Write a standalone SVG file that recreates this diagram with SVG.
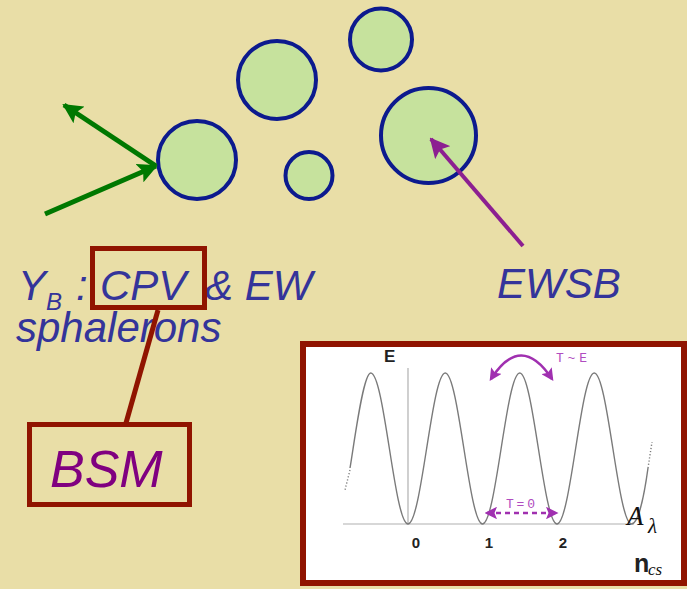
<svg xmlns="http://www.w3.org/2000/svg" width="687" height="589" viewBox="0 0 687 589">
  <defs>
    <style>
      .bubble { fill: #c6e29d; stroke: #0c1a8e; stroke-width: 4; }
      .label { font-family: "Liberation Sans", Arial, sans-serif; font-style: italic; fill: #34349a; }
      .box { fill: none; stroke: #901400; stroke-width: 5; }
      .green { stroke: #007800; stroke-width: 5; fill: none; }
      .purple { stroke: #8c1f91; stroke-width: 4; fill: none; }
      .wave { fill: none; stroke: #7a7a7a; stroke-width: 1.4; }
      .axis { stroke: #b0b0b0; stroke-width: 1.2; }
      .tick { font-family: "Liberation Sans", Arial, sans-serif; font-weight: bold; fill: #222; }
      .mono { font-family: "Liberation Mono", "Courier New", monospace; fill: #b04cc0; }
      .math { font-family: "Liberation Serif", "Times New Roman", serif; font-style: italic; fill: #111; }
    </style>
    <marker id="headGreen" viewBox="0 0 10 10" refX="9" refY="5" markerWidth="4" markerHeight="4" orient="auto" markerUnits="strokeWidth">
      <path d="M0,0 L10,5 L0,10 L2,5 Z" fill="#007800"/>
    </marker>
    <marker id="headPurple" viewBox="0 0 10 10" refX="9" refY="5" markerWidth="5" markerHeight="5" orient="auto" markerUnits="strokeWidth">
      <path d="M0,0 L10,5 L0,10 L2,5 Z" fill="#8c1f91"/>
    </marker>
    <marker id="headPlot" viewBox="0 0 10 10" refX="8" refY="5" markerWidth="5" markerHeight="5" orient="auto-start-reverse" markerUnits="strokeWidth">
      <path d="M0,0 L10,5 L0,10 L2,5 Z" fill="#a030b0"/>
    </marker>
  </defs>

  <!-- background -->
  <rect x="0" y="0" width="687" height="589" fill="#e9dea7"/>

  <!-- bubbles -->
  <g id="bubble-left"><circle class="bubble" cx="197" cy="160" r="39"/></g>
  <g id="bubble-mid"><circle class="bubble" cx="277" cy="80" r="39"/></g>
  <g id="bubble-top"><circle class="bubble" cx="381" cy="39.5" r="31"/></g>
  <g id="bubble-small"><circle class="bubble" cx="309" cy="175.5" r="23.5"/></g>
  <g id="bubble-big"><circle class="bubble" cx="428.5" cy="135.5" r="47.5"/></g>

  <!-- labels -->
  <g id="label-yb">
    <text class="label" font-size="42" x="18" y="300">Y</text>
    <text class="label" font-size="24" x="46" y="310">B</text>
    <text class="label" font-size="42" x="76" y="300">:</text>
    <text class="label" font-size="42" x="100" y="300">CPV</text>
    <text class="label" font-size="42" x="205" y="300">&amp; EW</text>
    <text class="label" font-size="42" x="16" y="342">sphalerons</text>
  </g>
  <g id="label-ewsb">
    <text class="label" font-size="42" x="497" y="298">EWSB</text>
  </g>
  <g id="cpv-box">
    <rect class="box" x="92.5" y="248.5" width="112" height="59"/>
  </g>
  <g id="bsm">
    <rect class="box" x="29.5" y="424.5" width="160" height="80"/>
    <text font-family="Liberation Sans, Arial, sans-serif" font-style="italic" font-size="52" fill="#800080" x="50" y="487">BSM</text>
  </g>

  <!-- connectors -->
  <g id="connectors">
    <line class="green" x1="45" y1="214" x2="156" y2="166" marker-end="url(#headGreen)"/>
    <line class="green" x1="156" y1="166" x2="64" y2="105" marker-end="url(#headGreen)"/>
    <line class="purple" x1="523" y1="246" x2="431" y2="139" marker-end="url(#headPurple)"/>
    <line stroke="#901400" stroke-width="5" x1="158" y1="310" x2="126" y2="423"/>
  </g>

  <!-- energy landscape panel -->
  <g id="panel">
    <rect x="303" y="344" width="381" height="239" fill="#ffffff" stroke="#901400" stroke-width="6"/>
    <line class="axis" x1="343" y1="524" x2="634" y2="524"/>
    <line class="axis" x1="408" y1="368" x2="408" y2="524"/>
    <path class="wave" d="M350,468 C354,445 363,373 370.75,373
      C384.29,373 394.46,524 408,524
      C421.54,524 431.71,373 445.25,373
      C458.79,373 468.96,524 482.5,524
      C496.04,524 506.21,373 519.75,373
      C533.29,373 543.46,524 557,524
      C570.54,524 580.71,373 594.25,373
      C607.79,373 617.96,524 631.5,524
      C639,524 645,490 648,468"/>
    <path class="wave" stroke-dasharray="1.2,2" d="M350,470 L345,490 M648,468 L652,442"/>
    <text class="tick" font-size="17" x="384" y="362">E</text>
    <text class="tick" font-size="15" x="416" y="548" text-anchor="middle">0</text>
    <text class="tick" font-size="15" x="489" y="548" text-anchor="middle">1</text>
    <text class="tick" font-size="15" x="563" y="548" text-anchor="middle">2</text>
    <path d="M491,379 Q521,332 552,379" fill="none" stroke="#a030b0" stroke-width="2.5" marker-start="url(#headPlot)" marker-end="url(#headPlot)"/>
    <text class="mono" font-size="13" x="556" y="362" textLength="31">T~E</text>
    <line x1="487" y1="513" x2="556" y2="513" stroke="#a030b0" stroke-width="2.5" stroke-dasharray="5,4" marker-start="url(#headPlot)" marker-end="url(#headPlot)"/>
    <text class="mono" font-size="13" x="506" y="508" textLength="29">T=0</text>
    <text class="math" font-size="27" x="627" y="525">A</text>
    <text class="math" font-size="21" x="648" y="533">λ</text>
    <text class="tick" font-size="25" x="634" y="572" fill="#111">n</text>
    <text class="math" font-size="17" x="648" y="575">cs</text>
  </g>
</svg>
